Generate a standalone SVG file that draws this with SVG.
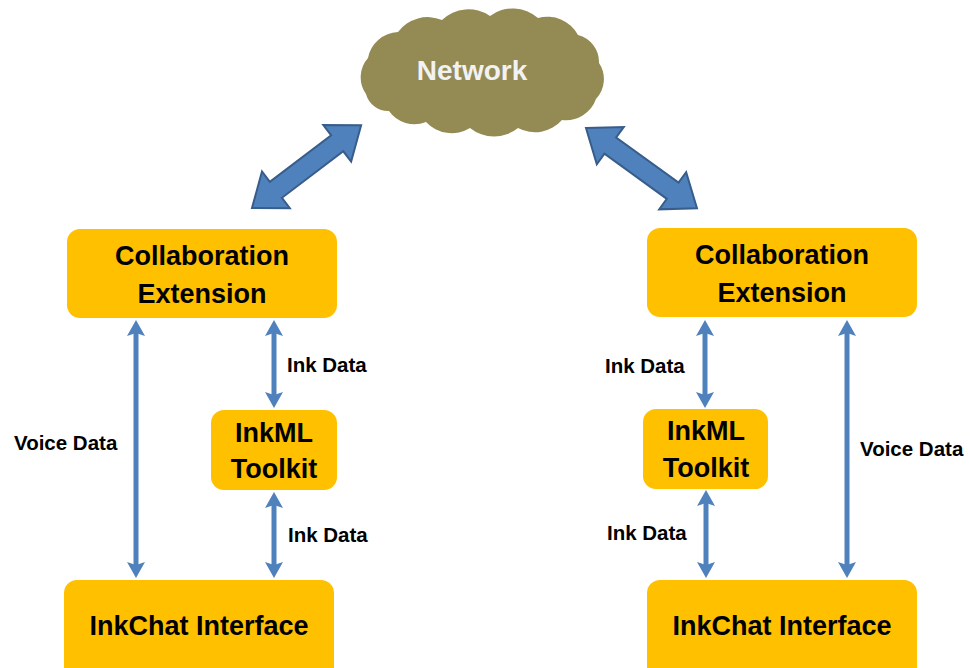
<svg xmlns="http://www.w3.org/2000/svg" width="970" height="668" viewBox="0 0 970 668">
  <style>
    .box { fill: #ffc000; }
    .boxText { font-family: "Liberation Sans", Arial, sans-serif; font-weight: bold; font-size: 27px; fill: #000; text-anchor: middle; }
    .label { font-family: "Liberation Sans", Arial, sans-serif; font-weight: bold; font-size: 20.5px; fill: #000; }
    .thin { stroke: #4f81bd; stroke-width: 5; fill: none; marker-start: url(#head); marker-end: url(#head); }
    .block { fill: #4f81bd; stroke: #385d8a; stroke-width: 2; stroke-linejoin: miter; }
  </style>
  <defs>
    <marker id="head" viewBox="0 0 16 18" refX="3" refY="9" markerWidth="16" markerHeight="18" markerUnits="userSpaceOnUse" orient="auto-start-reverse">
      <path d="M0,0 L16,9 L0,18 L3,9 Z" fill="#4f81bd"/>
    </marker>
    <path id="dblArrow" d="M0,0 L30,-23 L30,-10 L107,-10 L107,-23 L137,0 L107,23 L107,10 L30,10 L30,23 Z"/>
  </defs>

  <rect width="970" height="668" fill="#ffffff"/>

  <g id="network">
    <path d="M366,94 A29,29 0 0 1 368,58 A32,32 0 0 1 398,32 A37,37 0 0 1 442,20 A38,38 0 0 1 490,16 A38,38 0 0 1 538,18 A35,35 0 0 1 578,35 A28,28 0 0 1 599,63 A29,29 0 0 1 596,99 A32,32 0 0 1 562,120 A36,36 0 0 1 518,128 A38,38 0 0 1 470,128 A35,35 0 0 1 426,122 A31,31 0 0 1 389,111 A23,23 0 0 1 366,94 Z" fill="#948a54"/>
    <text x="472" y="80" style="font-family: 'Liberation Sans', Arial, sans-serif; font-weight: bold; font-size: 28px; fill: #f2f2f2; text-anchor: middle;">Network</text>
  </g>

  <g id="connectors">
    <use href="#dblArrow" class="block" transform="translate(252,208) rotate(-37.2)"/>
    <use href="#dblArrow" class="block" transform="translate(586,128) rotate(35.9)"/>
    <line class="thin" x1="136" y1="333" x2="136" y2="565"/>
    <line class="thin" x1="274" y1="333" x2="274" y2="395"/>
    <line class="thin" x1="274" y1="505" x2="274" y2="565"/>
    <line class="thin" x1="705" y1="333" x2="705" y2="395"/>
    <line class="thin" x1="706" y1="503" x2="706" y2="565"/>
    <line class="thin" x1="847" y1="333" x2="847" y2="565"/>
    <text class="label" x="14" y="450">Voice Data</text>
    <text class="label" x="287" y="372">Ink Data</text>
    <text class="label" x="288" y="542">Ink Data</text>
    <text class="label" x="605" y="373">Ink Data</text>
    <text class="label" x="607" y="540">Ink Data</text>
    <text class="label" x="860" y="456">Voice Data</text>
  </g>

  <g id="collab-left">
    <rect class="box" x="67" y="229" width="270" height="89" rx="13"/>
    <text class="boxText" x="202" y="265">Collaboration</text>
    <text class="boxText" x="202" y="303">Extension</text>
  </g>
  <g id="inkml-left">
    <rect class="box" x="211" y="410" width="126" height="80" rx="13"/>
    <text class="boxText" x="274" y="442">InkML</text>
    <text class="boxText" x="274" y="478">Toolkit</text>
  </g>
  <g id="inkchat-left">
    <rect class="box" x="64" y="580" width="270" height="100" rx="13"/>
    <text class="boxText" x="199" y="635">InkChat Interface</text>
  </g>

  <g id="collab-right">
    <rect class="box" x="647" y="228" width="270" height="89" rx="13"/>
    <text class="boxText" x="782" y="264">Collaboration</text>
    <text class="boxText" x="782" y="302">Extension</text>
  </g>
  <g id="inkml-right">
    <rect class="box" x="643" y="409" width="125" height="80" rx="13"/>
    <text class="boxText" x="706" y="440">InkML</text>
    <text class="boxText" x="706" y="477">Toolkit</text>
  </g>
  <g id="inkchat-right">
    <rect class="box" x="647" y="580" width="270" height="100" rx="13"/>
    <text class="boxText" x="782" y="635">InkChat Interface</text>
  </g>
</svg>
